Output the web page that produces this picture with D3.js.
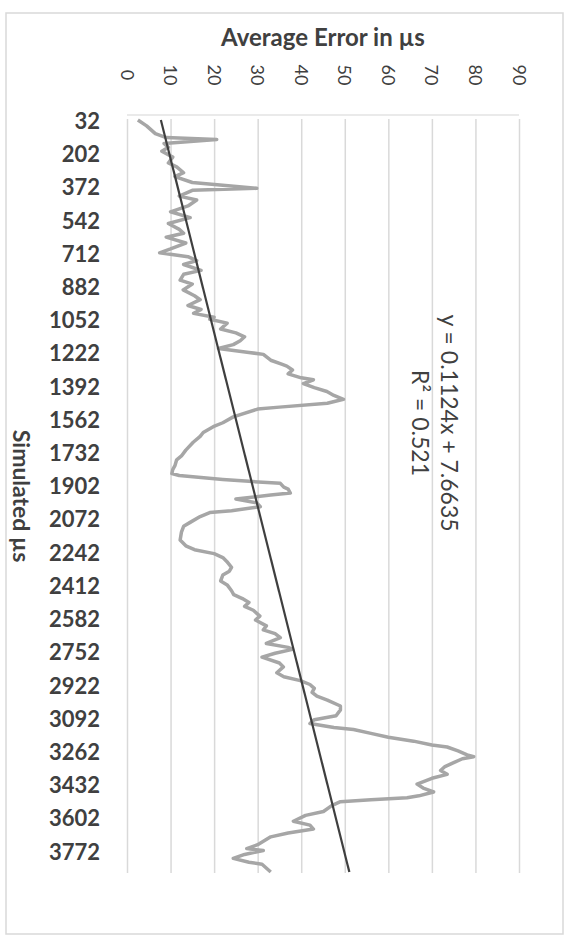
<!DOCTYPE html>
<html>
<head>
<meta charset="utf-8">
<script src="https://cdn.jsdelivr.net/npm/d3@7/dist/d3.min.js"></script>
<style>
  body { margin: 0; background: #fff; }
  svg text { font-family: "Lato", "Open Sans", sans-serif; fill: #404040; }
</style>
</head>
<body>
<div id="visualization"></div>
<script>
// Simulated time (µs) and the average error
var simulatedUs = [32, 62, 102, 122, 132, 152, 172, 192, 222, 252, 272, 302, 322, 352, 382, 392, 422, 442, 472, 502,
  532, 562, 592, 612, 632, 662, 692, 712, 732, 752, 772, 802, 822, 852, 872, 902, 932, 952, 982, 1002,
  1022, 1042, 1052, 1072, 1102, 1122, 1142, 1162, 1182, 1202, 1222, 1232, 1262, 1282, 1292, 1312, 1332, 1352, 1362, 1382,
  1402, 1422, 1442, 1462, 1482, 1502, 1512, 1552, 1582, 1602, 1632, 1652, 1682, 1722, 1752, 1772, 1802, 1822, 1842, 1852,
  1872, 1882, 1892, 1912, 1922, 1942, 1952, 1972, 1992, 2012, 2032, 2042, 2062, 2092, 2112, 2142, 2182, 2212, 2232, 2252,
  2272, 2292, 2322, 2342, 2362, 2392, 2412, 2442, 2462, 2482, 2502, 2522, 2542, 2572, 2592, 2622, 2642, 2662, 2682, 2712,
  2732, 2742, 2762, 2782, 2812, 2832, 2862, 2882, 2902, 2922, 2942, 2962, 2982, 3002, 3032, 3052, 3082, 3102, 3122, 3142,
  3152, 3172, 3192, 3212, 3232, 3242, 3262, 3282, 3292, 3302, 3322, 3342, 3362, 3382, 3402, 3432, 3452, 3472, 3492, 3502,
  3512, 3522, 3542, 3572, 3592, 3622, 3642, 3662, 3682, 3702, 3722, 3742, 3762, 3772, 3792, 3812, 3832, 3842, 3882];

var avgError = [2.5, 4.5, 6.5, 9, 20.6, 8.5, 9.5, 8, 10.5, 9.5, 11.4, 13, 11, 15, 29.8, 15, 12, 16, 14, 10,
  14.5, 9.5, 12, 13, 9, 13.5, 10, 7.5, 14, 16, 13, 17, 13, 12.2, 15, 12.9, 15.5, 16.8, 14, 17,
  15.3, 20, 19, 23, 21.5, 25, 27, 26, 24.4, 21, 28, 31.3, 33, 35.5, 36.7, 38, 37, 40, 42.8, 40.5,
  43, 45.9, 47.5, 49.7, 46, 35, 30, 24.4, 22, 19.8, 17.5, 16.8, 15.2, 13.5, 12.5, 11.4, 11, 10.5, 10.3, 12,
  22, 28, 35.2, 36, 37, 37.5, 33, 25, 29.8, 30.6, 24, 19, 16.8, 14.5, 13, 12.5, 12.2, 13.5, 15.5, 20,
  22, 22.9, 24, 23.5, 22, 21.5, 23, 24, 24.5, 26.5, 28, 27, 29, 30.5, 29.5, 32, 31.3, 34, 35.2, 32,
  37, 38, 34, 31, 35, 35.9, 34.4, 36, 39.8, 42, 43, 42.5, 43.6, 46, 49, 49, 48, 43, 42, 47.5,
  52, 56, 60, 65.8, 70, 73.5, 76, 78.1, 79.6, 77, 75, 73, 72, 73.5, 70, 66.6, 68, 70.4, 67, 64.3,
  56, 49, 47, 45.1, 41, 38.2, 42, 42.8, 37, 33, 31.5, 30, 27.5, 31.3, 27, 24.4, 28, 31, 33];

var categoryTicks = [32, 202, 372, 542, 712, 882, 1052, 1222, 1392, 1562, 1732, 1902, 2072, 2242, 2412,
  2582, 2752, 2922, 3092, 3262, 3432, 3602, 3772];
var valueTicks = [0, 10, 20, 30, 40, 50, 60, 70, 80, 90];

// linear trendline as Excel reports it (x = category index starting at 1)
var trendSlope = 0.1124;
var trendIntercept = 7.6635;
var trendR2 = 0.521;
var firstUs = 32, stepUs = 10, categoryCount = 386;

var width = 579, height = 948;
var plot = { left: 127, right: 519, top: 119, bottom: 873 };

var svg = d3.select("#visualization")
  .append("svg")
  .attr("width", width)
  .attr("height", height);

// chart area border
svg.append("rect")
  .attr("x", 6).attr("y", 13)
  .attr("width", 557).attr("height", 921)
  .attr("fill", "#fff")
  .attr("stroke", "#d9d9d9")
  .attr("stroke-width", 1.5);

var lastUs = firstUs + (categoryCount - 1) * stepUs;

// chart is turned on its side: values run left to right, time runs down
var xScale = d3.scaleLinear()
  .domain([0, 90])
  .range([plot.left, plot.right]);

var yScale = d3.scaleLinear()
  .domain([firstUs - stepUs / 2, lastUs + stepUs / 2])
  .range([plot.top, plot.bottom]);

// gridlines
svg.append("g")
  .attr("transform", "translate(0," + plot.top + ")")
  .call(d3.axisTop(xScale).tickValues(valueTicks).tickSize(-(plot.bottom - plot.top)).tickFormat(""))
  .call(function (g) { g.select(".domain").remove(); })
  .selectAll("line")
  .attr("stroke", "#d9d9d9")
  .attr("stroke-width", 1.5);

svg.append("line")
  .attr("x1", plot.left).attr("x2", plot.right)
  .attr("y1", plot.top - 4).attr("y2", plot.top - 4)
  .attr("stroke", "#e3e3e3")
  .attr("stroke-width", 1.5);

// value axis labels, rotated
var valueAxis = svg.append("g")
  .attr("transform", "translate(0,75)")
  .call(d3.axisTop(xScale).tickValues(valueTicks).tickSize(0));
valueAxis.select(".domain").remove();
valueAxis.selectAll("text")
  .attr("x", 0).attr("y", 0).attr("dy", null)
  .attr("transform", "rotate(90)")
  .attr("text-anchor", "middle")
  .attr("dominant-baseline", "central")
  .style("font-size", "18px")
  .style("font-family", "Lato, sans-serif")
  .attr("fill", "#404040");

// category axis labels
var catAxis = svg.append("g")
  .attr("transform", "translate(" + plot.left + ",0)")
  .call(d3.axisLeft(yScale).tickValues(categoryTicks).tickFormat(d3.format("d")).tickSize(0).tickPadding(27));
catAxis.select(".domain").remove();
catAxis.selectAll("text")
  .attr("dy", null)
  .attr("dominant-baseline", "central")
  .style("font-size", "22px")
  .style("font-weight", "bold")
  .style("font-family", "Lato, sans-serif")
  .attr("fill", "#404040");

// data line
var line = d3.line()
  .x(function (d, i) { return xScale(avgError[i]); })
  .y(function (d) { return yScale(d); });

svg.append("path")
  .datum(simulatedUs)
  .attr("d", line)
  .attr("fill", "none")
  .attr("stroke", "#a6a6a6")
  .attr("stroke-width", 3.5)
  .attr("stroke-linejoin", "round");

// trendline
var trendEnds = [firstUs, lastUs];
svg.append("path")
  .datum(trendEnds)
  .attr("d", d3.line()
    .x(function (d) { return xScale(trendSlope * ((d - firstUs) / stepUs + 1) + trendIntercept); })
    .y(function (d) { return yScale(d); }))
  .attr("fill", "none")
  .attr("stroke", "#3f3f3f")
  .attr("stroke-width", 2.2);

// trendline label
var eq = svg.append("text")
  .attr("transform", "translate(449,423) rotate(90)")
  .attr("text-anchor", "middle")
  .style("font-size", "23px");
eq.append("tspan").attr("x", 0).attr("dy", "0.35em")
  .text("y = " + trendSlope + "x + " + trendIntercept);
eq.append("tspan").attr("x", 0).attr("dy", 29)
  .text("R² = " + trendR2);

// axis titles
svg.append("text")
  .attr("x", (plot.left + plot.right) / 2)
  .attr("y", 36)
  .attr("text-anchor", "middle")
  .attr("dominant-baseline", "central")
  .style("font-size", "24px")
  .style("font-weight", "bold")
  .text("Average Error in µs");

svg.append("text")
  .attr("transform", "translate(22," + (plot.top + plot.bottom) / 2 + ") rotate(90)")
  .attr("text-anchor", "middle")
  .attr("dominant-baseline", "central")
  .style("font-size", "23px")
  .style("font-weight", "bold")
  .text("Simulated µs");
</script>
</body>
</html>
